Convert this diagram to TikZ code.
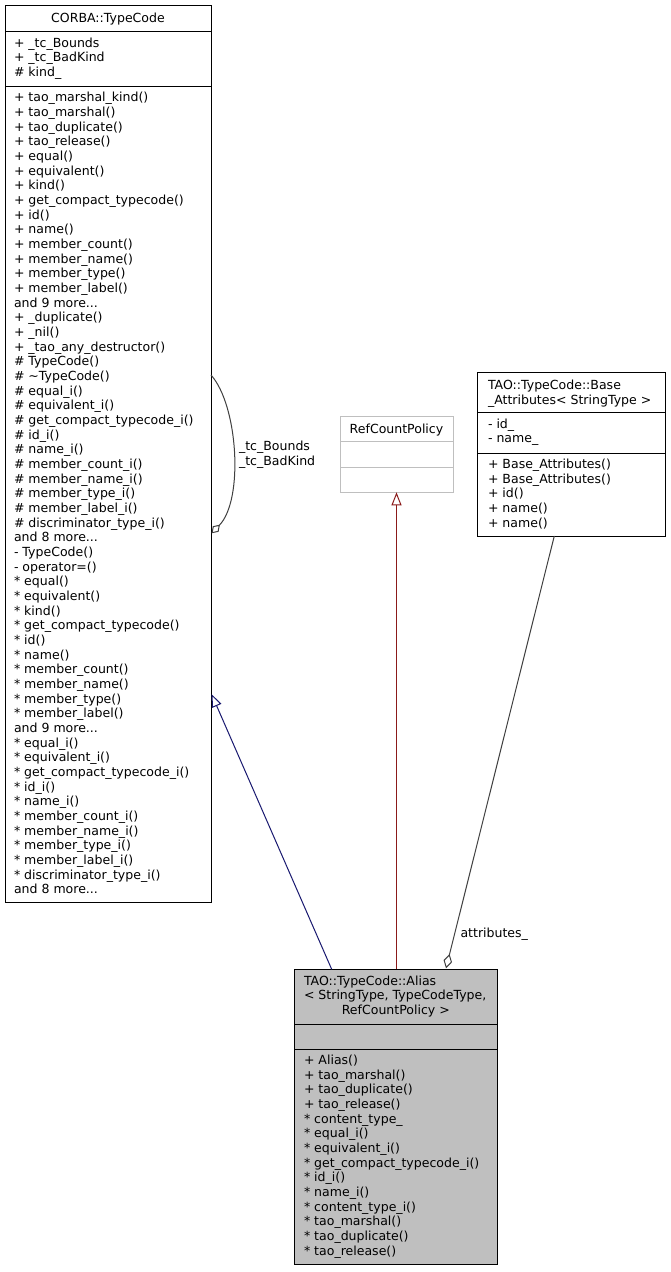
\documentclass[tikz,border=0pt]{standalone}
\usepackage{fontspec}
\setmainfont{DejaVu Sans}
\usetikzlibrary{arrows.meta,fit,calc}
\definecolor{inhblue}{HTML}{191970}
\definecolor{privred}{HTML}{8B1A1A}
\definecolor{agggray}{HTML}{404040}
\definecolor{boxgray}{HTML}{BFBFBF}
\newcommand\fs{\fontsize{9.4pt}{11pt}\selectfont}
\newcommand\andmore[1]{and #1 more...}
\newcommand\classlines[4]{%
  \foreach \t [count=\i] in {#4}
    \node[txt] (#1\i) at (#2,{#3+(\i-1)*14.67}) {\t};}
\begin{document}
\begin{tikzpicture}[x=0.75pt,y=-0.75pt,
  txt/.style={anchor=base west,inner sep=0pt,outer sep=0pt,font=\fs},
  ctxt/.style={anchor=base,inner sep=0pt,outer sep=0pt,font=\fs},
  classbox/.style={draw=black,line width=0.75pt,inner sep=0pt,outer sep=0pt},
  divider/.style={draw=black,line width=0.75pt},
  inh/.style={draw=inhblue,line width=0.75pt,-{Triangle[open,length=9.75pt,width=7.5pt]}},
  priv/.style={draw=privred,line width=0.75pt,-{Triangle[open,length=9.75pt,width=7.5pt]}},
  agg/.style={draw=agggray,line width=0.75pt,-{Diamond[open,length=11pt,width=6.5pt]}},
  loopagg/.style={draw=agggray,line width=0.75pt,-{Diamond[open,length=9pt,width=6pt]}}]
\useasboundingbox (0,0) rectangle (671,1272);
\fill[white] (0,0) rectangle (671,1272);

% ---- CORBA::TypeCode
\node[classbox,fit={(5,5.7) (211,902.7)}] (tc) {};
\draw[divider] (5,31.7) -- (211,31.7);
\draw[divider] (5,86) -- (211,86);
\node[ctxt] (tctitle) at (108,22.3) {CORBA::TypeCode};
\classlines{tca}{14}{47}{+ \_tc\_Bounds, + \_tc\_BadKind, \# kind\_}
\classlines{tcm}{14}{101.7}{+ tao\_marshal\_kind(), + tao\_marshal(), + tao\_duplicate(), + tao\_release(), + equal(), + equivalent(), + kind(), + get\_compact\_typecode(), + id(), + name(), + member\_count(), + member\_name(), + member\_type(), + member\_label(), {\andmore{9}}, + \_duplicate(), + \_nil(), + \_tao\_any\_destructor(), \# TypeCode(), \# \textasciitilde TypeCode(), \# equal\_i(), \# equivalent\_i(), \# get\_compact\_typecode\_i(), \# id\_i(), \# name\_i(), \# member\_count\_i(), \# member\_name\_i(), \# member\_type\_i(), \# member\_label\_i(), \# discriminator\_type\_i(), {\andmore{8}}, - TypeCode(), - operator=(), * equal(), * equivalent(), * kind(), * get\_compact\_typecode(), * id(), * name(), * member\_count(), * member\_name(), * member\_type(), * member\_label(), {\andmore{9}}, * equal\_i(), * equivalent\_i(), * get\_compact\_typecode\_i(), * id\_i(), * name\_i(), * member\_count\_i(), * member\_name\_i(), * member\_type\_i(), * member\_label\_i(), * discriminator\_type\_i(), {\andmore{8}}}

% ---- RefCountPolicy
\node[classbox,draw=boxgray,fit={(340,416.7) (453,492.3)}] (rc) {};
\draw[divider,draw=boxgray] (340,441.7) -- (453,441.7);
\draw[divider,draw=boxgray] (340,467.3) -- (453,467.3);
\node[ctxt] (rctitle) at (396.5,433.3) {RefCountPolicy};

% ---- TAO::TypeCode::Base_Attributes
\node[classbox,fit={(477.7,372.7) (665.7,536)}] (ba) {};
\draw[divider] (477.7,412.7) -- (665.7,412.7);
\draw[divider] (477.7,453) -- (665.7,453);
\classlines{bat}{488}{389.5}{TAO::TypeCode::Base, \_Attributes< StringType >}
\classlines{baa}{488}{428.2}{- id\_, - name\_}
\classlines{bam}{488}{468.5}{+ Base\_Attributes(), + Base\_Attributes(), + id(), + name(), + name()}

% ---- TAO::TypeCode::Alias
\node[classbox,fill=boxgray,fit={(294,969.3) (497.7,1264.3)}] (al) {};
\draw[divider] (294,1024) -- (497.7,1024);
\draw[divider] (294,1049) -- (497.7,1049);
\classlines{alt}{304}{985.3}{TAO::TypeCode::Alias, {< StringType, TypeCodeType,}}
\node[ctxt] (alt3) at (395.85,1014.7) {RefCountPolicy >};
\classlines{alm}{304}{1064.5}{+ Alias(), + tao\_marshal(), + tao\_duplicate(), + tao\_release(), * content\_type\_, * equal\_i(), * equivalent\_i(), * get\_compact\_typecode\_i(), * id\_i(), * name\_i(), * content\_type\_i(), * tao\_marshal(), * tao\_duplicate(), * tao\_release()}

% ---- connectors
\draw[inh] ($(al.north west)+(37.7,0)$) -- ($(tc.north east)+(0.5,688.3)$);
\draw[priv] (al.north -| rc.south) -- (rc.south);
\draw[agg] ($(ba.south west)+(76.6,0)$) -- ($(al.north west)+(152,-1)$);
\node[txt] (attrlbl) at (460.5,937.5) {attributes\_};
\coordinate (loopa) at ($(tc.north east)+(0,369.3)$);
\coordinate (loopb) at ($(tc.north east)+(0.5,527.6)$);
\draw[loopagg] (loopa) .. controls (238,405) and (244,500) .. (loopb);
\node[txt] (looplbl1) at (239,450.7) {\_tc\_Bounds};
\node[txt] (looplbl2) at (239,465) {\_tc\_BadKind};
\end{tikzpicture}
\end{document}
